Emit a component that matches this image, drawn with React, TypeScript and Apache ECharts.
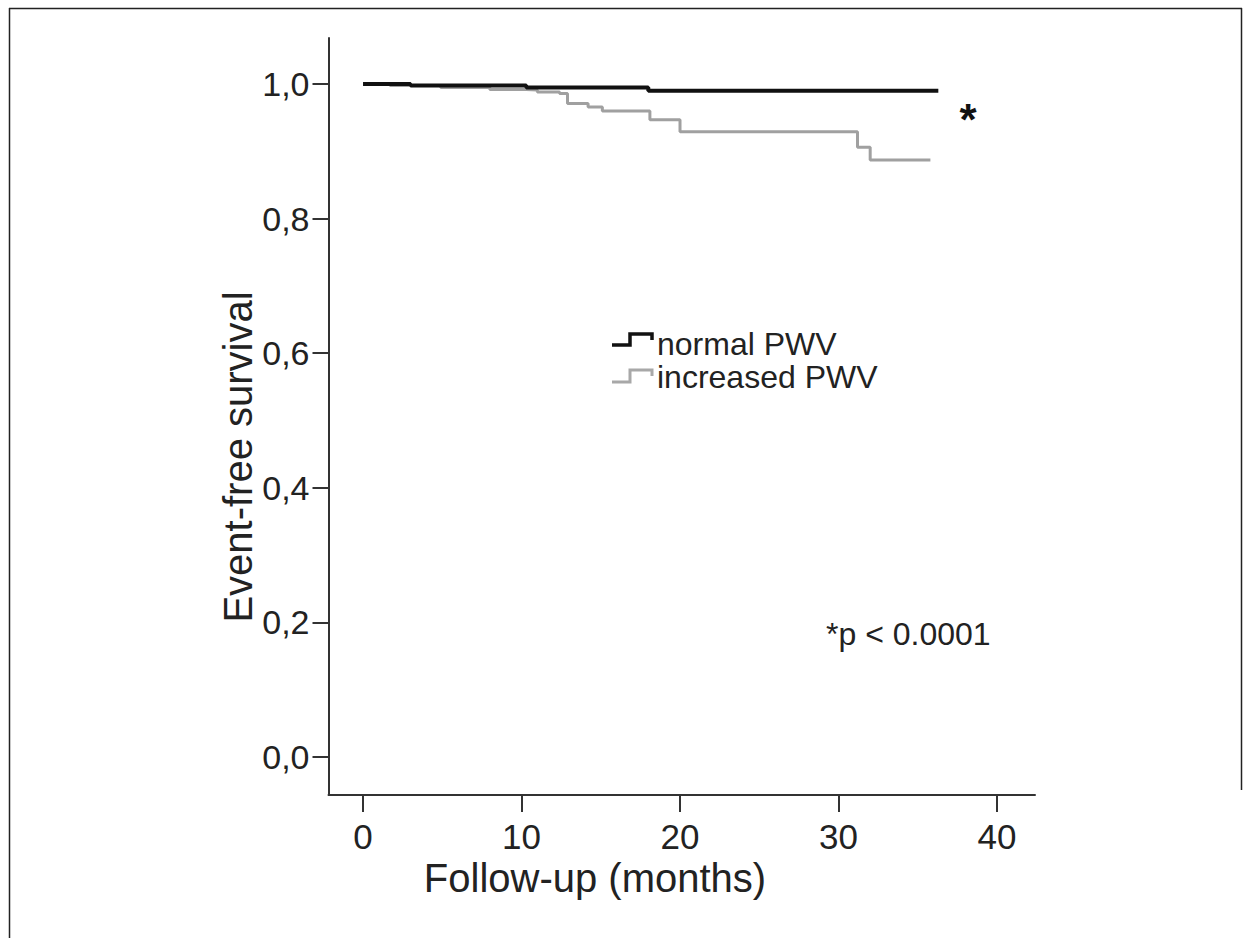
import React, { useEffect, useRef } from "react";
import * as echarts from "echarts";

// Kaplan-Meier step data (time in months, survival proportion)
const normalTimes = [0, 3, 10.3, 18, 36.3];
const normalSurvival = [1.0, 0.998, 0.995, 0.99, 0.99];

const increasedTimes = [0, 1.7, 4.9, 8, 10.3, 11, 12.4, 12.9, 14.2, 15.1, 18.1, 20, 31.2, 32, 35.8];
const increasedSurvival = [1.0, 0.998, 0.995, 0.992, 0.991, 0.988, 0.986, 0.971, 0.966, 0.96, 0.947, 0.929, 0.906, 0.887, 0.887];

const xTicks = [0, 10, 20, 30, 40];
const yTicks = [0, 0.2, 0.4, 0.6, 0.8, 1.0];

const seriesNames = ["normal PWV", "increased PWV"];
const xTitle = "Follow-up (months)";
const yTitle = "Event-free survival";
const pText = "*p < 0.0001";

const FONT = "'Liberation Sans', Arial, Helvetica, sans-serif";

export default function App() {
  const ref = useRef<HTMLDivElement>(null);

  useEffect(() => {
    if (!ref.current) return;
    const chart = echarts.init(ref.current, undefined, { renderer: "svg" });

    const axisColor = "#333";
    const option: any = {
      animation: false,
      backgroundColor: "#fff",
      grid: { left: 328.5, right: 219, top: 38, bottom: 143 },
      xAxis: {
        type: "value",
        min: -2.18,
        max: 42.4,
        axisLine: { show: true, onZero: false, lineStyle: { color: axisColor, width: 2 } },
        axisTick: { show: true, length: 17, customValues: xTicks, lineStyle: { color: axisColor, width: 2 } },
        axisLabel: {
          customValues: xTicks,
          fontSize: 35,
          fontFamily: FONT,
          color: "#222",
          margin: 24,
        },
        splitLine: { show: false },
      },
      yAxis: {
        type: "value",
        min: -0.0565,
        max: 1.0684,
        axisLine: { show: true, onZero: false, lineStyle: { color: axisColor, width: 2 } },
        axisTick: { show: true, length: 16, customValues: yTicks, lineStyle: { color: axisColor, width: 2 } },
        axisLabel: {
          customValues: yTicks,
          fontSize: 34,
          fontFamily: FONT,
          color: "#222",
          margin: 19,
          formatter: (v: number) => v.toFixed(1).replace(".", ","),
        },
        splitLine: { show: false },
      },
      series: [
        {
          name: seriesNames[1],
          type: "line",
          step: "end",
          symbol: "none",
          lineStyle: { color: "#a0a0a0", width: 3 },
          data: increasedTimes.map((t, i) => [t, increasedSurvival[i]]),
        },
        {
          name: seriesNames[0],
          type: "line",
          step: "end",
          symbol: "none",
          lineStyle: { color: "#111", width: 4 },
          data: normalTimes.map((t, i) => [t, normalSurvival[i]]),
        },
      ],
      graphic: [
        // frame
        { type: "line", shape: { x1: 9.5, y1: 8, x2: 9.5, y2: 938 }, style: { stroke: "#222", lineWidth: 1.5 } },
        { type: "line", shape: { x1: 9, y1: 8.5, x2: 1242, y2: 8.5 }, style: { stroke: "#222", lineWidth: 1.5 } },
        { type: "line", shape: { x1: 1241.5, y1: 8, x2: 1241.5, y2: 790 }, style: { stroke: "#222", lineWidth: 1.5 } },
        // legend icons
        {
          type: "polyline",
          shape: { points: [[612, 345], [630, 345], [630, 334], [652, 334], [652, 340]] },
          style: { stroke: "#111", lineWidth: 3.5, fill: "none" },
        },
        {
          type: "polyline",
          shape: { points: [[612, 382], [630, 382], [630, 370], [652, 370], [652, 376]] },
          style: { stroke: "#a8a8a8", lineWidth: 3, fill: "none" },
        },
        {
          type: "text",
          x: 657,
          y: 344,
          style: { text: seriesNames[0], fontSize: 32, fontFamily: FONT, fill: "#222", verticalAlign: "middle", align: "left" },
        },
        {
          type: "text",
          x: 657,
          y: 377,
          style: { text: seriesNames[1], fontSize: 32, fontFamily: FONT, fill: "#222", verticalAlign: "middle", align: "left" },
        },
        // axis titles
        {
          type: "text",
          x: 595,
          y: 878,
          style: { text: xTitle, fontSize: 40, fontFamily: FONT, fill: "#222", verticalAlign: "middle", align: "center" },
        },
        {
          type: "text",
          x: 238,
          y: 457,
          rotation: Math.PI / 2,
          style: { text: yTitle, fontSize: 40, fontFamily: FONT, fill: "#222", verticalAlign: "middle", align: "center" },
        },
        // p-value annotation
        {
          type: "text",
          x: 826,
          y: 634,
          style: { text: pText, fontSize: 32, fontFamily: FONT, fill: "#222", verticalAlign: "middle", align: "left" },
        },
        {
          type: "text",
          x: 968,
          y: 119,
          style: { text: "*", fontSize: 44, fontWeight: "bold", fontFamily: FONT, fill: "#111", verticalAlign: "middle", align: "center" },
        },
      ],
    };

    chart.setOption(option);
    return () => chart.dispose();
  }, []);

  return (
    <div
      ref={ref}
      style={{ position: "fixed", left: 0, top: 0, width: 1254, height: 938, background: "#fff" }}
    />
  );
}
